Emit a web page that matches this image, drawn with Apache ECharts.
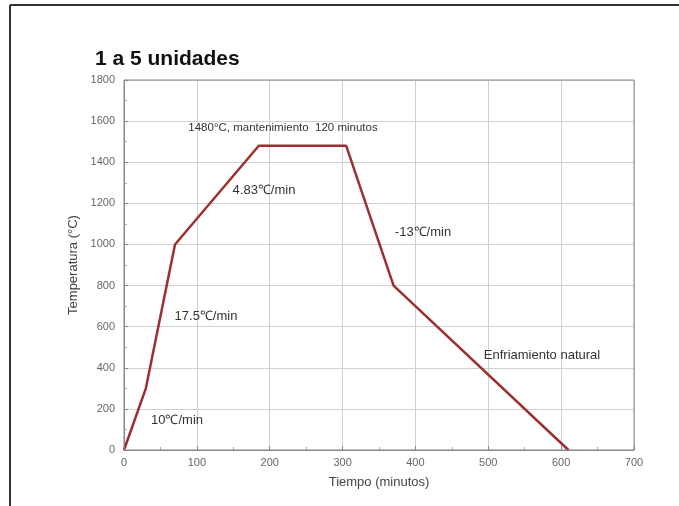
<!DOCTYPE html>
<html><head><meta charset="utf-8">
<script src="https://cdn.jsdelivr.net/npm/echarts@6/dist/echarts.min.js"></script>
<style>html,body{margin:0;padding:0;background:#fff}#c{width:679px;height:506px}</style>
</head><body><div id="c"></div>
<script>
const timeMin = [0, 30, 70, 185, 305, 370, 610];
const tempC = [0, 300, 1000, 1480, 1480, 800, 0];
const annotations = ['1480°C, mantenimiento  120 minutos','4.83℃/min','-13℃/min','17.5℃/min','10℃/min','Enfriamiento natural'];
const chart = echarts.init(document.getElementById('c'));
const font = 'Liberation Sans, Arial, sans-serif';
const axisCommon = {
  axisLine:{show:true,onZero:false,lineStyle:{color:'#888',width:1}},
  axisTick:{show:true,inside:true,length:4,lineStyle:{color:'#888'}},
  minorTick:{show:true,splitNumber:2,length:3,lineStyle:{color:'#aaa'}},
  splitLine:{show:true,lineStyle:{color:'#d0d0d0',width:1}},
  axisLabel:{color:'#666',fontSize:11,fontFamily:font,formatter:v=>String(v)},
  nameTextStyle:{color:'#444',fontSize:13,fontFamily:font}
};
const pos = [[283,128],[264,190],[423,232],[206,316],[177,420],[542,355]];
const sizes = [11.5,13,13,13,13,13];
chart.setOption({
  animation:false,
  title:{text:'1 a 5 unidades',left:90,top:44,textStyle:{fontSize:21,fontWeight:'bold',color:'#111',fontFamily:font}},
  grid:{left:124,right:45,top:80,bottom:56},
  xAxis:Object.assign({type:'value',min:0,max:700,interval:100,name:'Tiempo (minutos)',nameLocation:'middle',nameGap:26},axisCommon,{axisLabel:Object.assign({},axisCommon.axisLabel,{margin:7})}),
  yAxis:Object.assign({type:'value',min:0,max:1800,interval:200,name:'Temperatura (°C)',nameLocation:'middle',nameGap:42},axisCommon,{axisLabel:Object.assign({},axisCommon.axisLabel,{margin:9})}),
  series:[{type:'line',data:timeMin.map((t,i)=>[t,tempC[i]]),symbol:'none',lineStyle:{color:'#9c2f2f',width:2.5}}],
  graphic:[
    {type:'rect',shape:{x:124,y:80,width:510,height:370},style:{fill:'none',stroke:'#888',lineWidth:1},silent:true,z:50},
    {type:'line',shape:{x1:10,y1:5,x2:679,y2:5},style:{stroke:'#333',lineWidth:2}},
    {type:'line',shape:{x1:10,y1:5,x2:10,y2:506},style:{stroke:'#333',lineWidth:2}}
  ].concat(annotations.map((t,i)=>({type:'text',z:100,x:pos[i][0],y:pos[i][1],style:{text:t,fill:'#333',font:sizes[i]+'px '+font,textAlign:'center',textVerticalAlign:'middle'}})))
});
</script></body></html>
